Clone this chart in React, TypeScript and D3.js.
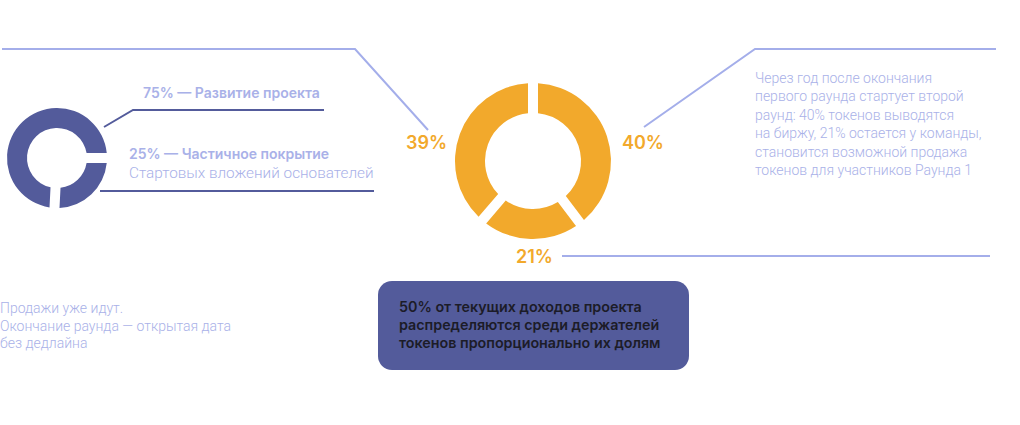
import * as d3 from 'd3';
import React, { useEffect, useRef } from 'react';

// Раунд 1 — распределение средств
const fundLabels = ['25% — Частичное покрытие', '75% — Развитие проекта'];
const fundValues = [25, 75];

// Раунд 2 — распределение токенов
const tokenLabels = ['40%', '21%', '39%'];
const tokenValues = [40, 21, 39];

const roundTwoText = [
  'Через год после окончания',
  'первого раунда стартует второй',
  'раунд: 40% токенов выводятся',
  'на биржу, 21% остается у команды,',
  'становится возможной продажа',
  'токенов для участников Раунда 1',
];
const salesText = ['Продажи уже идут.', 'Окончание раунда — открытая дата', 'без дедлайна'];
const boxText = [
  '50% от текущих доходов проекта',
  'распределяются среди держателей',
  'токенов пропорционально их долям',
];
const fundSubText = 'Стартовых вложений основателей';

const ORANGE = '#f2a92c';
const DARK = '#535b9b';
const LIGHT = '#a4aeea';
const TEXT_LIGHT = '#a9b1e8';
const HEAD_FONT = 'Inter, "Open Sans", sans-serif';
const BODY_FONT = 'Roboto, sans-serif';

export default function App({ width = 1020, height = 425 }) {
  const svgRef = useRef(null);

  useEffect(() => {
    const svg = d3.select(svgRef.current);
    svg.selectAll('*').remove();

    // Маленький донат (слева)
    const small = { cx: 57, cy: 158, r0: 30, r1: 50 };
    const smallPie = d3
      .pie()
      .sort(null)
      .startAngle(Math.PI / 2)
      .endAngle(Math.PI / 2 + 2 * Math.PI)
      .padAngle(0.1)(fundValues);
    const smallArc = d3.arc().innerRadius(small.r0).outerRadius(small.r1).padRadius(100);
    svg
      .append('g')
      .attr('transform', `translate(${small.cx},${small.cy})`)
      .selectAll('path')
      .data(smallPie)
      .enter()
      .append('path')
      .attr('d', smallArc)
      .attr('fill', DARK);

    // Большой донат (по центру)
    const big = { cx: 533, cy: 161, r0: 48, r1: 78 };
    const bigPie = d3.pie().sort(null).padAngle(0.1)(tokenValues);
    const bigArc = d3.arc().innerRadius(big.r0).outerRadius(big.r1).padRadius(100);
    svg
      .append('g')
      .attr('transform', `translate(${big.cx},${big.cy})`)
      .selectAll('path')
      .data(bigPie)
      .enter()
      .append('path')
      .attr('d', bigArc)
      .attr('fill', ORANGE);

    // Линии-выноски
    const line = d3.line();
    const lines = [
      { pts: [[2, 49], [355, 49], [428, 130]], color: LIGHT },
      { pts: [[996, 49], [755, 49], [644, 127]], color: LIGHT },
      { pts: [[562, 256], [990, 256]], color: LIGHT },
      { pts: [[104, 127], [133, 110], [324, 110]], color: DARK },
      { pts: [[100, 191], [374, 191]], color: DARK },
    ];
    svg
      .append('g')
      .selectAll('path')
      .data(lines)
      .enter()
      .append('path')
      .attr('d', (d) => line(d.pts))
      .attr('fill', 'none')
      .attr('stroke', (d) => d.color)
      .attr('stroke-width', 2);

    // Подписи процентов большого доната
    const pctPos = [
      { x: 622, y: 149, anchor: 'start' },
      { x: 516, y: 263, anchor: 'start' },
      { x: 447, y: 149, anchor: 'end' },
    ];
    svg
      .append('g')
      .selectAll('text')
      .data(tokenLabels)
      .enter()
      .append('text')
      .attr('x', (d, i) => pctPos[i].x)
      .attr('y', (d, i) => pctPos[i].y)
      .attr('text-anchor', (d, i) => pctPos[i].anchor)
      .attr('fill', ORANGE)
      .style('font-family', HEAD_FONT)
      .style('font-weight', 600)
      .style('font-size', '18px')
      .text((d) => d);

    // Подписи маленького доната
    svg
      .append('text')
      .attr('x', 143)
      .attr('y', 98)
      .attr('fill', TEXT_LIGHT)
      .style('font-family', HEAD_FONT)
      .style('font-weight', 600)
      .style('font-size', '14px')
      .text(fundLabels[1]);
    svg
      .append('text')
      .attr('x', 129)
      .attr('y', 159)
      .attr('fill', TEXT_LIGHT)
      .style('font-family', HEAD_FONT)
      .style('font-weight', 600)
      .style('font-size', '14px')
      .text(fundLabels[0]);
    svg
      .append('text')
      .attr('x', 129)
      .attr('y', 178)
      .attr('fill', TEXT_LIGHT)
      .style('font-family', BODY_FONT)
      .style('font-weight', 300)
      .style('font-size', '15.3px')
      .text(fundSubText);

    // Текст справа
    svg
      .append('g')
      .selectAll('text')
      .data(roundTwoText)
      .enter()
      .append('text')
      .attr('x', 755)
      .attr('y', (d, i) => 83 + i * 18.4)
      .attr('fill', TEXT_LIGHT)
      .style('font-family', BODY_FONT)
      .style('font-weight', 300)
      .style('font-size', '14px')
      .text((d) => d);

    // Текст слева снизу
    svg
      .append('g')
      .selectAll('text')
      .data(salesText)
      .enter()
      .append('text')
      .attr('x', 0)
      .attr('y', (d, i) => 313 + i * 17.5)
      .attr('fill', TEXT_LIGHT)
      .style('font-family', BODY_FONT)
      .style('font-weight', 300)
      .style('font-size', '14px')
      .text((d) => d);

    // Плашка
    svg
      .append('rect')
      .attr('x', 378)
      .attr('y', 281)
      .attr('width', 311)
      .attr('height', 89)
      .attr('rx', 14)
      .attr('fill', DARK);
    svg
      .append('g')
      .selectAll('text')
      .data(boxText)
      .enter()
      .append('text')
      .attr('x', 399)
      .attr('y', (d, i) => 312 + i * 18)
      .attr('fill', '#1c1c28')
      .style('font-family', HEAD_FONT)
      .style('font-weight', 600)
      .style('font-size', '14.3px')
      .text((d) => d);
  }, []);

  return (
    <svg
      ref={svgRef}
      width={width}
      height={height}
      style={{ position: 'absolute', left: 0, top: 0, background: '#fff' }}
    ></svg>
  );
}
